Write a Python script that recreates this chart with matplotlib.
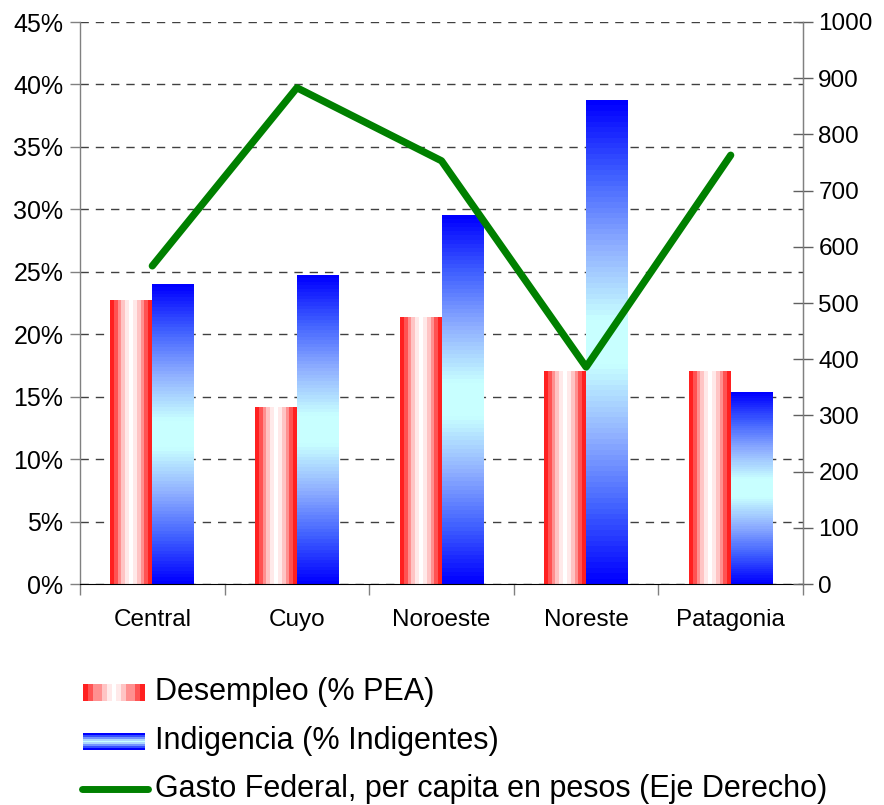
import numpy as np
import matplotlib.pyplot as plt
from matplotlib.colors import LinearSegmentedColormap
from matplotlib.lines import Line2D
from matplotlib.ticker import FuncFormatter, MultipleLocator

plt.rcParams['font.family'] = ['Liberation Sans', 'DejaVu Sans']

# data
regions = ["Central", "Cuyo", "Noroeste", "Noreste", "Patagonia"]
desempleo = [22.7, 14.1, 21.3, 17.0, 17.0]      # % PEA
indigencia = [24.0, 24.7, 29.5, 38.7, 15.3]     # % indigentes
gasto = [566, 883, 753, 386, 763]               # pesos per capita (right axis)

legend_labels = ["Desempleo (% PEA)",
                 "Indigencia (% Indigentes)",
                 "Gasto Federal, per capita en pesos (Eje Derecho)"]

GREEN = "#008000"

# banded gradients, like the old spreadsheet fills
red_cmap = LinearSegmentedColormap.from_list(
    "red_band", ["#ff2020", "#ff6060", "#ffb0b0", "#ffe4e4", "#ffffff"])
blue_cmap = LinearSegmentedColormap.from_list(
    "blue_band", ["#0000ff", "#4060ff", "#90b0ff", "#c8ffff"])


def red_fill(n=11):
    t = 1 - np.abs(np.linspace(-1, 1, n))
    t = np.round(t * 5) / 5
    return red_cmap(t)[None, :, :]


def blue_fill(n=90):
    t = 1 - np.abs(np.linspace(-1, 1, n))
    t = np.clip(t * 1.1, 0, 1)
    return blue_cmap(t)[:, None, :]


fig = plt.figure(figsize=(8.84, 8.05), dpi=100)
ax = fig.add_axes([80 / 884, 1 - 584 / 805, 723 / 884, 562 / 805])

x = np.arange(len(regions))
w = 0.29
bars_d = ax.bar(x - w / 2, desempleo, w, color="none", linewidth=0)
bars_i = ax.bar(x + w / 2, indigencia, w, color="none", linewidth=0)

for bars, fill in ((bars_d, red_fill()), (bars_i, blue_fill())):
    for b in bars:
        x0, y0 = b.get_x(), b.get_y()
        ax.imshow(fill, extent=(x0, x0 + b.get_width(), y0, y0 + b.get_height()),
                  aspect="auto", interpolation="nearest", zorder=2)

ax.set_xlim(-0.5, len(regions) - 0.5)
ax.set_ylim(0, 45)
ax.yaxis.set_major_locator(MultipleLocator(5))
ax.yaxis.set_major_formatter(FuncFormatter(lambda v, p: f"{v:.0f}%"))
ax.grid(axis="y", color="#404040", linestyle=(0, (6, 5)), linewidth=1.0)
ax.set_axisbelow(True)

ax.set_xticks(x)
ax.set_xticklabels(regions)
ax.set_xticks(np.arange(len(regions) + 1) - 0.5, minor=True)
ax.tick_params(axis="x", which="major", length=0, pad=18, labelsize=17.5)
ax.tick_params(axis="x", which="minor", length=8, direction="out", width=1,
               color="#808080")
ax.tick_params(axis="y", length=7, width=1, labelsize=18, pad=5,
               color="#808080")
ax.spines["top"].set_visible(False)
for s in ("left", "right"):
    ax.spines[s].set_color("#808080")
    ax.spines[s].set_linewidth(1)
ax.spines["bottom"].set_color("black")

ax2 = ax.twinx()
ax2.plot(x, gasto, color=GREEN, linewidth=5.2, solid_capstyle="round",
         solid_joinstyle="round", zorder=3)
ax2.set_ylim(0, 1000)
ax2.yaxis.set_major_locator(MultipleLocator(100))
ax2.tick_params(axis="y", length=14, width=1, direction="inout",
                labelsize=17.5, pad=4, color="#606060")
for s in ax2.spines.values():
    s.set_visible(False)
ax2.spines["right"].set_visible(True)
ax2.spines["right"].set_color("#808080")

# legend drawn by hand so the swatches keep their gradients
lg = fig.add_axes([0, 0, 1, 1], zorder=5)
lg.set_xlim(0, 884)
lg.set_ylim(805, 0)
lg.axis("off")
lg.imshow(red_fill(13), extent=(83, 145, 701, 684), aspect="auto",
          interpolation="nearest")
lg.imshow(blue_fill(9), extent=(83, 145, 750, 733), aspect="auto",
          interpolation="nearest")
lg.add_line(Line2D([82, 148], [789, 789], color=GREEN, linewidth=5,
                   solid_capstyle="round"))
for yy, lab in zip((692, 741, 789), legend_labels):
    lg.text(155, yy, lab, fontsize=22, va="center", ha="left")

fig.savefig("out.png", dpi=100)
